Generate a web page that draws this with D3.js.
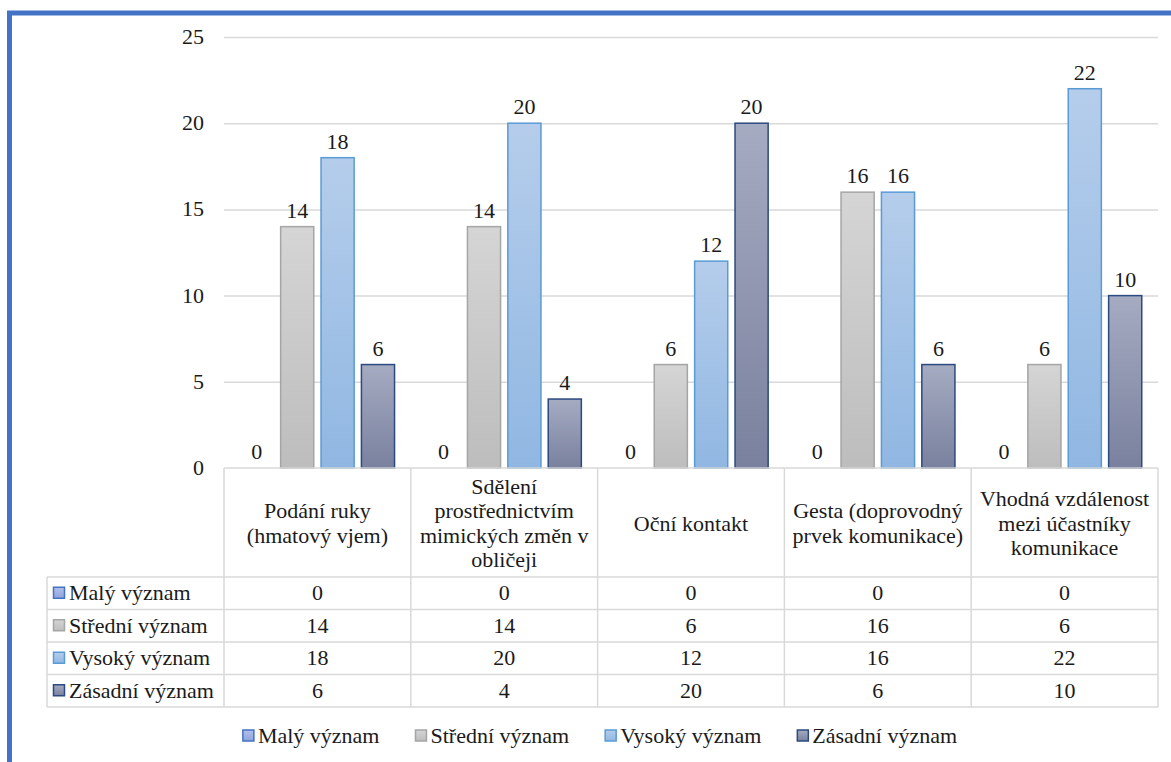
<!DOCTYPE html>
<html>
<head>
<meta charset="utf-8">
<script src="https://cdn.jsdelivr.net/npm/d3@7"></script>
</head>
<body style="margin:0">
<svg id="chart" width="1171" height="762" font-family="Liberation Serif"></svg>
<script>
// Categories (header cells of the data table, "\n" marks line breaks)
const categories = [
  "Podání ruky\n(hmatový vjem)",
  "Sdělení\nprostřednictvím\nmimických změn v\nobličeji",
  "Oční kontakt",
  "Gesta (doprovodný\nprvek komunikace)",
  "Vhodná vzdálenost\nmezi účastníky\nkomunikace"
];
const seriesNames = ["Malý význam", "Střední význam", "Vysoký význam", "Zásadní význam"];
const maly     = [0, 0, 0, 0, 0];
const stredni  = [14, 14, 6, 16, 6];
const vysoky   = [18, 20, 12, 16, 22];
const zasadni  = [6, 4, 20, 6, 10];
const yTicks   = [0, 5, 10, 15, 20, 25];

const seriesValues = [maly, stredni, vysoky, zasadni];
const seriesStyle = [
  { top: "#b2c0ea", bottom: "#8fa4dc", stroke: "#4472c4" },
  { top: "#d5d5d5", bottom: "#bdbdbd", stroke: "#a5a5a5" },
  { top: "#b5cdeb", bottom: "#90b7e2", stroke: "#5b9bd5" },
  { top: "#a5abc1", bottom: "#7a819e", stroke: "#2b4a80" }
];

const svg = d3.select("#chart");
const W = 1171, H = 762;
const fontSize = 22;
const txt = sel => sel.attr("font-family", "Liberation Serif").attr("font-size", fontSize).attr("fill", "#1a1a1a");

// outer frame
svg.append("rect").attr("x", 0).attr("y", 0).attr("width", W).attr("height", H).attr("fill", "#fff");
svg.append("rect")
  .attr("x", 9.5).attr("y", 13).attr("width", W + 40).attr("height", H + 40)
  .attr("fill", "none").attr("stroke", "#4472c4").attr("stroke-width", 5);

// plot geometry
const plotLeft = 224, plotRight = 1158, plotTop = 37, plotBottom = 468;
const x0 = d3.scaleBand().domain(d3.range(categories.length)).range([plotLeft, plotRight]).padding(0);
const bw = x0.bandwidth();
const x1 = d3.scaleBand().domain(d3.range(seriesNames.length))
  .range([bw * 0.087, bw * 0.913]).paddingInner(0.18).paddingOuter(0);
const y = d3.scaleLinear().domain([0, 25]).range([plotBottom, plotTop]);

// bar gradients
const defs = svg.append("defs");
seriesStyle.forEach((s, i) => {
  const g = defs.append("linearGradient").attr("id", "grad" + i)
    .attr("x1", 0).attr("y1", 0).attr("x2", 0).attr("y2", 1);
  g.append("stop").attr("offset", "0%").attr("stop-color", s.top);
  g.append("stop").attr("offset", "100%").attr("stop-color", s.bottom);
});

// gridlines
const yAxis = d3.axisLeft(y).tickValues(yTicks).tickSize(-(plotRight - plotLeft)).tickFormat("");
const gy = svg.append("g").attr("transform", `translate(${plotLeft},0)`).call(yAxis);
gy.select(".domain").remove();
gy.selectAll(".tick line").attr("stroke", "#d9d9d9").attr("stroke-width", 1.5)
  .filter(d => d === 0).remove();
gy.selectAll(".tick text").remove();

// y labels
yTicks.forEach(t => {
  svg.append("text").attr("x", 204).attr("y", y(t) + 7)
    .attr("text-anchor", "end").call(txt).text(t);
});

// bars and value labels
seriesValues.forEach((vals, si) => {
  vals.forEach((v, ci) => {
    if (v > 0) {
      svg.append("rect")
        .attr("x", x0(ci) + x1(si)).attr("y", y(v))
        .attr("width", x1.bandwidth()).attr("height", y(0) - y(v))
        .attr("fill", `url(#grad${si})`)
        .attr("stroke", seriesStyle[si].stroke).attr("stroke-width", 1.5);
    }
    svg.append("text")
      .attr("x", x0(ci) + x1(si) + x1.bandwidth() / 2).attr("y", y(v) - 9)
      .attr("text-anchor", "middle").call(txt)
      .text(v);
  });
});

// data table
const tableLeft = 47;
const headerBottom = 577;
const rowH = 32.5;
const tableBottom = headerBottom + rowH * seriesNames.length;
const lineStyle = sel => sel.attr("stroke", "#d9d9d9").attr("stroke-width", 1.5);

svg.append("line").attr("x1", plotLeft).attr("x2", plotRight).attr("y1", plotBottom).attr("y2", plotBottom).call(lineStyle);
d3.range(seriesNames.length + 1).forEach(r => {
  const yy = headerBottom + r * rowH;
  svg.append("line").attr("x1", tableLeft).attr("x2", plotRight).attr("y1", yy).attr("y2", yy).call(lineStyle);
});
svg.append("line").attr("x1", tableLeft).attr("x2", tableLeft).attr("y1", headerBottom).attr("y2", tableBottom).call(lineStyle);
d3.range(categories.length + 1).forEach(i => {
  const xx = plotLeft + i * bw;
  svg.append("line").attr("x1", xx).attr("x2", xx).attr("y1", plotBottom).attr("y2", tableBottom).call(lineStyle);
});

// header text
const lineH = 24.5;
categories.forEach((c, i) => {
  const lines = c.split("\n");
  const cx = x0(i) + bw / 2;
  const cy = (plotBottom + headerBottom) / 2 + 1;
  lines.forEach((ln, li) => {
    svg.append("text").attr("x", cx)
      .attr("y", cy + (li - (lines.length - 1) / 2) * lineH + 7)
      .attr("text-anchor", "middle").call(txt)
      .text(ln);
  });
});

// row labels with markers, and values
seriesNames.forEach((name, si) => {
  const cy = headerBottom + si * rowH + rowH / 2;
  svg.append("rect").attr("x", 53.5).attr("y", cy - 6).attr("width", 11).attr("height", 11)
    .attr("fill", `url(#grad${si})`).attr("stroke", seriesStyle[si].stroke).attr("stroke-width", 1.5);
  svg.append("text").attr("x", 69).attr("y", cy + 7).call(txt).text(name);
  seriesValues[si].forEach((v, ci) => {
    svg.append("text").attr("x", x0(ci) + bw / 2).attr("y", cy + 7)
      .attr("text-anchor", "middle").call(txt).text(v);
  });
});

// legend
const lg = svg.append("g");
const legendY = 736;
let lx = 0;
seriesNames.forEach((name, si) => {
  const item = lg.append("g");
  item.append("rect").attr("x", 0).attr("y", legendY - 6).attr("width", 11).attr("height", 11)
    .attr("fill", `url(#grad${si})`).attr("stroke", seriesStyle[si].stroke).attr("stroke-width", 1.5);
  const t = item.append("text").attr("x", 15).attr("y", legendY + 7).call(txt).text(name);
  const w = 15 + t.node().getComputedTextLength();
  item.attr("transform", `translate(${lx},0)`);
  lx += w + 36;
});
const totalW = lx - 36;
lg.attr("transform", `translate(${600 - totalW / 2},0)`);
</script>
</body>
</html>
